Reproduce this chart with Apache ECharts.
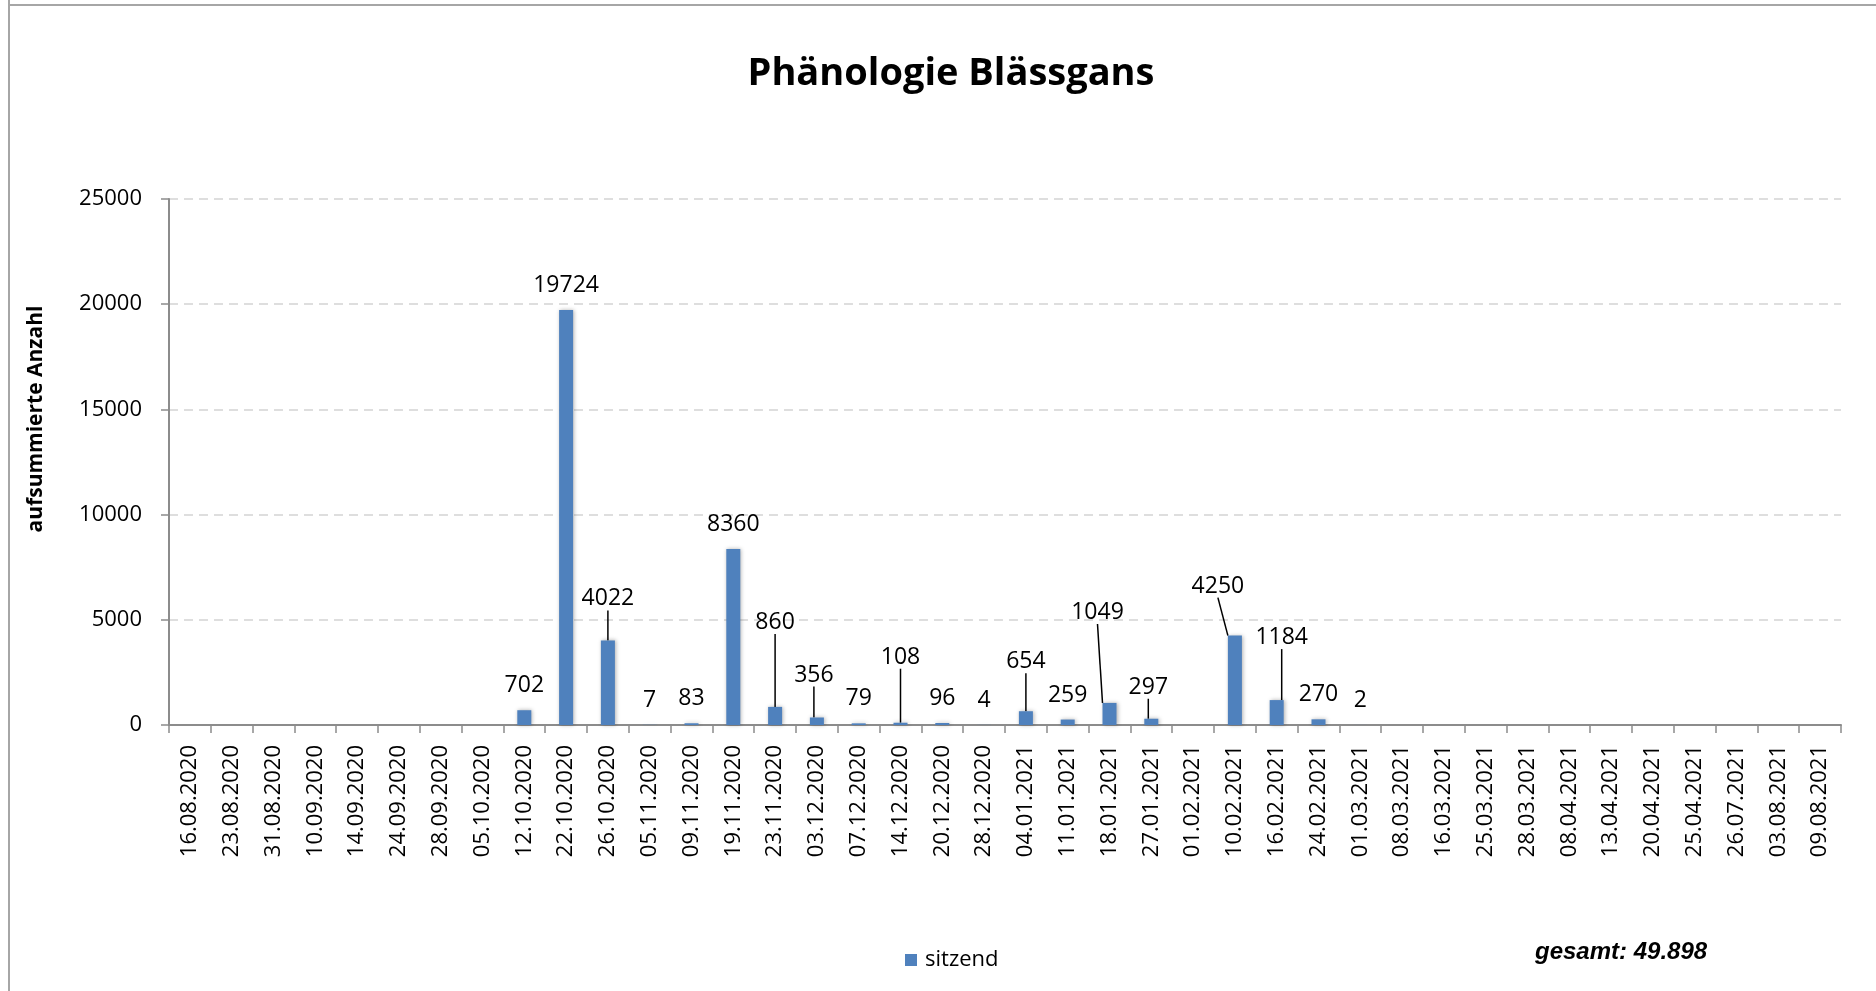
<!DOCTYPE html>
<html>
<head>
<meta charset="utf-8">
<script src="https://cdn.jsdelivr.net/npm/echarts@6/dist/echarts.min.js"></script>
<style>
  html, body { margin: 0; padding: 0; background: #fff; }
  #chart { width: 1876px; height: 991px; }
</style>
</head>
<body>
<div id="chart"></div>
<script>
const categories = [
  '16.08.2020','23.08.2020','31.08.2020','10.09.2020','14.09.2020','24.09.2020','28.09.2020','05.10.2020',
  '12.10.2020','22.10.2020','26.10.2020','05.11.2020','09.11.2020','19.11.2020','23.11.2020','03.12.2020',
  '07.12.2020','14.12.2020','20.12.2020','28.12.2020','04.01.2021','11.01.2021','18.01.2021','27.01.2021',
  '01.02.2021','10.02.2021','16.02.2021','24.02.2021','01.03.2021','08.03.2021','16.03.2021','25.03.2021',
  '28.03.2021','08.04.2021','13.04.2021','20.04.2021','25.04.2021','26.07.2021','03.08.2021','09.08.2021'
];
const sitzend = [
  0, 0, 0, 0, 0, 0, 0, 0,
  702, 19724, 4022, 7, 83, 8360, 860, 356,
  79, 108, 96, 4, 654, 259, 1049, 297,
  0, 4250, 1184, 270, 2, 0, 0, 0,
  0, 0, 0, 0, 0, 0, 0, 0
];
const yTicks = { min: 0, max: 25000, interval: 5000 };
const titleText = 'Phänologie Blässgans';
const yAxisName = 'aufsummierte Anzahl';
const seriesName = 'sitzend';
const totalText = 'gesamt: 49.898';

// label displacement (layout only), keyed by category index
const labelShift = {
  10: [0, -17], 14: [0, -60], 15: [-3, -18], 17: [0, -41], 20: [0, -25],
  22: [-12, -66], 23: [-3, -7], 25: [-17, -25], 26: [5, -38]
};

const FONT = '"Open Sans", "Noto Sans", sans-serif';
const chart = echarts.init(document.getElementById('chart'), null, { renderer: 'canvas' });

const barData = sitzend.map((v, i) => labelShift[i]
  ? { value: v, labelLine: { show: true } }
  : { value: v, labelLine: { show: false } });

chart.setOption({
  backgroundColor: '#ffffff',
  animation: false,
  title: {
    text: titleText,
    left: 946, textAlign: 'center', top: 50,
    textStyle: { fontFamily: FONT, fontSize: 38, fontWeight: 'bold', color: '#000' }
  },
  legend: {
    data: [seriesName],
    left: 900, top: 944,
    icon: 'rect', itemWidth: 12, itemHeight: 12,
    textStyle: { fontFamily: FONT, fontSize: 22, color: '#000', padding: [0, 0, 0, 3] }
  },
  grid: { left: 169, right: 35, top: 199, bottom: 266, containLabel: false },
  xAxis: {
    type: 'category',
    data: categories,
    boundaryGap: true,
    axisLine: { show: true, lineStyle: { color: '#8c8c8c', width: 2 } },
    axisTick: { show: true, alignWithLabel: false, length: 8, lineStyle: { color: '#8c8c8c', width: 1.5 } },
    axisLabel: { interval: 0, rotate: 90, margin: 20, fontFamily: FONT, fontSize: 22, color: '#000' },
    splitLine: { show: false }
  },
  yAxis: {
    type: 'value',
    min: yTicks.min, max: yTicks.max, interval: yTicks.interval,
    axisLine: { show: true, lineStyle: { color: '#8c8c8c', width: 2 } },
    axisTick: { show: true, length: 8, lineStyle: { color: '#8c8c8c', width: 1.5 } },
    axisLabel: { margin: 27, fontFamily: FONT, fontSize: 22, color: '#000', formatter: v => String(v) },
    splitLine: { show: true, lineStyle: { color: '#d4d4d4', width: 1.5, type: [9, 6] } }
  },
  series: [{
    name: seriesName,
    type: 'bar',
    data: barData,
    barWidth: 14,
    itemStyle: {
      color: '#4f81bd',
      shadowColor: 'rgba(0,0,0,0.3)', shadowBlur: 4, shadowOffsetX: 1, shadowOffsetY: 0
    },
    label: {
      show: true, position: 'top', distance: 13,
      fontFamily: FONT, fontSize: 23, color: '#000',
      formatter: p => (p.value === 0 ? '' : String(p.value))
    },
    labelLine: { show: false, lineStyle: { color: '#000', width: 1.5 } },
    labelLayout: function (params) {
      const s = labelShift[params.dataIndex];
      if (!s) return {};
      return { dx: s[0], dy: s[1] };
    }
  }],
  graphic: [
    { type: 'line', silent: true, shape: { x1: 9, y1: 0, x2: 9, y2: 991 }, style: { stroke: '#a6a6a6', lineWidth: 2 } },
    { type: 'line', silent: true, shape: { x1: 9, y1: 5, x2: 1876, y2: 5 }, style: { stroke: '#a6a6a6', lineWidth: 2 } },
    {
      type: 'text', silent: true, x: 36, y: 419, rotation: Math.PI / 2,
      style: { text: yAxisName, fontFamily: FONT, fontSize: 21, fontWeight: 'bold', fill: '#000', align: 'center', verticalAlign: 'middle' }
    },
    {
      type: 'text', silent: true, x: 1535, y: 952,
      style: { text: totalText, fontFamily: '"Liberation Sans", Arial, sans-serif', fontSize: 24, fontWeight: 'bold', fontStyle: 'italic', fill: '#000', align: 'left', verticalAlign: 'middle' }
    }
  ]
});
</script>
</body>
</html>
